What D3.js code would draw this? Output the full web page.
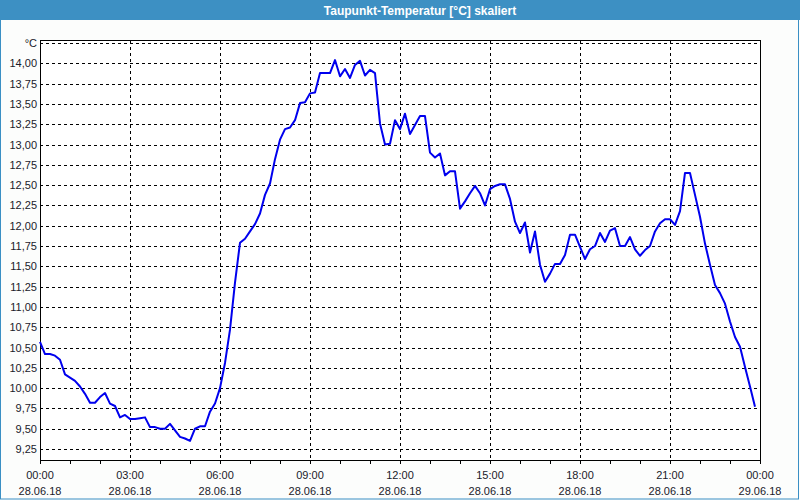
<!DOCTYPE html>
<html>
<head>
<meta charset="utf-8">
<script src="https://cdn.jsdelivr.net/npm/d3@7"></script>
<style>
  html, body { margin: 0; padding: 0; background: #ffffff; }
  svg { display: block; }
  text { font-family: "Liberation Sans", Arial, sans-serif; }
</style>
</head>
<body>
<svg id="chart" width="800" height="500"></svg>
<script>
// ---- data ----
const title = "Taupunkt-Temperatur [°C] skaliert";
const unitLabel = "°C";
const startTime = "28.06.18 00:00";
const stepMinutes = 10;
// dew point temperature, one reading every 10 minutes from 00:00 to 23:50
const dewPoint = [
  10.57, 10.42, 10.42, 10.40, 10.35, 10.17, 10.13, 10.09, 10.02, 9.93,
  9.82, 9.82, 9.89, 9.94, 9.81, 9.78, 9.64, 9.67, 9.62, 9.62,
  9.63, 9.64, 9.52, 9.52, 9.50, 9.50, 9.56, 9.48, 9.40, 9.38,
  9.35, 9.50, 9.53, 9.53, 9.71, 9.81, 10.00, 10.31, 10.72, 11.30,
  11.79, 11.84, 11.93, 12.02, 12.15, 12.38, 12.52, 12.82, 13.06, 13.19,
  13.21, 13.30, 13.51, 13.52, 13.63, 13.64, 13.88, 13.88, 13.88, 14.04,
  13.84, 13.93, 13.82, 13.98, 14.03, 13.85, 13.92, 13.88, 13.26, 13.00,
  13.01, 13.30, 13.19, 13.38, 13.13, 13.24, 13.35, 13.35, 12.90, 12.84,
  12.89, 12.62, 12.67, 12.67, 12.21, 12.30, 12.40, 12.49, 12.40, 12.25,
  12.45, 12.49, 12.51, 12.51, 12.33, 12.05, 11.91, 12.04, 11.67, 11.93,
  11.52, 11.31, 11.41, 11.53, 11.53, 11.64, 11.89, 11.89, 11.74, 11.59,
  11.71, 11.75, 11.91, 11.80, 11.94, 11.97, 11.75, 11.75, 11.86, 11.71,
  11.63, 11.70, 11.75, 11.93, 12.03, 12.08, 12.08, 12.01, 12.18, 12.65,
  12.65, 12.38, 12.11, 11.78, 11.52, 11.27, 11.17, 11.04, 10.82, 10.63,
  10.51, 10.26, 10.02, 9.77
];
const yTicks = [9.25, 9.50, 9.75, 10.00, 10.25, 10.50, 10.75, 11.00, 11.25, 11.50, 11.75,
                12.00, 12.25, 12.50, 12.75, 13.00, 13.25, 13.50, 13.75, 14.00];
const yUnitTick = 14.25;
const xMajorTimes = ["00:00", "03:00", "06:00", "09:00", "12:00", "15:00", "18:00", "21:00", "00:00"];
const xMajorDates = ["28.06.18", "28.06.18", "28.06.18", "28.06.18", "28.06.18", "28.06.18", "28.06.18", "28.06.18", "29.06.18"];

// ---- layout ----
const svg = d3.select("#chart");
const parse = d3.timeParse("%d.%m.%y %H:%M");
const t0 = parse(startTime);
const t1 = d3.timeHour.offset(t0, 24);
const series = dewPoint.map((v, i) => ({ t: d3.timeMinute.offset(t0, i * stepMinutes), v }));
const majorTicks = xMajorTimes.map((_, i) => d3.timeHour.offset(t0, i * 3));

const L = 40, R = 760, T = 40.5, B = 460;
const x = d3.scaleTime().domain([t0, t1]).range([L, R]);
const y = d3.scaleLinear().domain([9.115, 14.281]).range([B, T]);

// window frame + title bar
svg.append("rect").attr("x", 0).attr("y", 0).attr("width", 800).attr("height", 500).attr("fill", "#fcfdfc");
svg.append("rect").attr("x", 0.5).attr("y", 0.5).attr("width", 798).attr("height", 498.5)
  .attr("fill", "none").attr("stroke", "#3a8fc4").attr("stroke-width", 1);
svg.append("rect").attr("x", 0).attr("y", 0).attr("width", 800).attr("height", 20).attr("fill", "#3d90c3");
svg.append("text").attr("x", 420).attr("y", 14.5).attr("text-anchor", "middle")
  .attr("fill", "#ffffff").attr("font-weight", "bold").attr("font-size", "12px").text(title);

// plot background
svg.append("rect").attr("x", L).attr("y", T).attr("width", R - L).attr("height", B - T).attr("fill", "#ffffff");

const grid = svg.append("g").attr("shape-rendering", "crispEdges");
// horizontal gridlines
grid.selectAll("line.h").data(yTicks.concat([yUnitTick])).join("line")
  .attr("x1", L).attr("x2", R)
  .attr("y1", d => Math.round(y(d)) + 0.5).attr("y2", d => Math.round(y(d)) + 0.5)
  .attr("stroke", "#000").attr("stroke-dasharray", "3,3");
// vertical gridlines
grid.selectAll("line.v").data(majorTicks.slice(1, -1)).join("line")
  .attr("x1", d => Math.round(x(d)) + 0.5).attr("x2", d => Math.round(x(d)) + 0.5)
  .attr("y1", T).attr("y2", B)
  .attr("stroke", "#000").attr("stroke-dasharray", "3,3");

// y labels
const yAxis = d3.axisLeft(y).tickValues(yTicks).tickSize(0).tickPadding(3)
  .tickFormat(d => d3.format(".2f")(d).replace(".", ","));
const gy = svg.append("g").attr("transform", `translate(${L},0)`).call(yAxis);
gy.select(".domain").remove();
gy.selectAll("text").attr("font-size", "11px").attr("fill", "#1a1a2a")
  .style("font-family", "Liberation Sans, Arial, sans-serif");
svg.append("text").attr("x", L - 3).attr("y", Math.round(y(yUnitTick)) + 4)
  .attr("text-anchor", "end").attr("font-size", "11px").attr("fill", "#1a1a2a").text(unitLabel);

// x axis with hourly ticks
const xAxis = d3.axisBottom(x).ticks(d3.timeHour.every(1)).tickSize(4).tickFormat("");
const gx = svg.append("g").attr("transform", `translate(0,${B})`).attr("shape-rendering", "crispEdges").call(xAxis);
gx.select(".domain").remove();
gx.selectAll("line").attr("stroke", "#000");

// x labels
const xl = svg.append("g");
xl.selectAll("text.time").data(majorTicks).join("text")
  .attr("x", d => x(d)).attr("y", 479).attr("text-anchor", "middle")
  .attr("font-size", "11px").attr("fill", "#1a1a2a").text((d, i) => xMajorTimes[i]);
xl.selectAll("text.date").data(majorTicks).join("text").attr("class", "date")
  .attr("x", d => x(d)).attr("y", 495).attr("text-anchor", "middle")
  .attr("font-size", "11px").attr("fill", "#1a1a2a").text((d, i) => xMajorDates[i]);

// plot border
svg.append("rect").attr("x", L + 0.5).attr("y", T).attr("width", R - L).attr("height", B - T)
  .attr("fill", "none").attr("stroke", "#000").attr("shape-rendering", "crispEdges");

// data line
const line = d3.line().x(d => x(d.t)).y(d => y(d.v));
svg.append("path").datum(series).attr("d", line)
  .attr("fill", "none").attr("stroke", "#0000ee").attr("stroke-width", 2)
  .attr("stroke-linejoin", "round");
</script>
</body>
</html>
